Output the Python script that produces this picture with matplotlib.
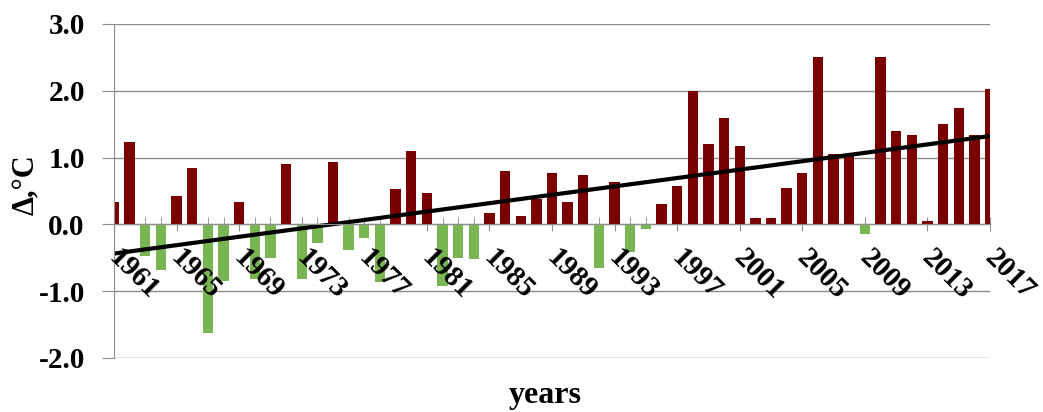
import numpy as np
import matplotlib
matplotlib.use("Agg")
import matplotlib.pyplot as plt
import matplotlib.transforms as mtransforms
from matplotlib.ticker import MultipleLocator, FormatStrFormatter

plt.rcParams['font.family'] = ['Liberation Serif', 'DejaVu Serif']
plt.rcParams['font.weight'] = 'bold'

# temperature anomaly per year
years = list(range(1961, 2018))
anomaly = [0.34, 1.23, -0.48, -0.68, 0.43, 0.84, -1.62, -0.84, 0.33, -0.82,
           -0.50, 0.90, -0.82, -0.28, 0.94, -0.38, -0.20, -0.86, 0.53, 1.10,
           0.47, -0.92, -0.50, -0.52, 0.17, 0.80, 0.13, 0.38, 0.77, 0.34,
           0.74, -0.65, 0.63, -0.41, -0.07, 0.31, 0.57, 2.00, 1.20, 1.60,
           1.18, 0.10, 0.10, 0.54, 0.77, 2.50, 1.06, 1.06, -0.15, 2.50,
           1.40, 1.34, 0.05, 1.50, 1.74, 1.34, 2.03]
tick_years = years[::4]

red = '#7a0000'
green = '#79b552'

x = np.arange(len(years))
vals = np.array(anomaly)
colors = [red if v >= 0 else green for v in vals]

fig = plt.figure(figsize=(10.43, 4.12), dpi=100)
ax = fig.add_axes([114/1043, 1-358/412, 876/1043, 334/412])
ax.set_axisbelow(True)

ax.bar(x, vals, width=0.66, color=colors, zorder=1)

# linear trend
k, b = np.polyfit(x, vals, 1)
ax.plot(x, k*x + b, color='black', lw=3, zorder=2, solid_capstyle='butt')

ax.set_xlim(0, len(years) - 1)
ax.set_ylim(-2, 3)
ax.yaxis.set_major_locator(MultipleLocator(1.0))
ax.yaxis.set_major_formatter(FormatStrFormatter('%.1f'))
ax.grid(axis='y', color='#8c8c8c', lw=1)

for s in ['top', 'right']:
    ax.spines[s].set_visible(False)
ax.spines['bottom'].set_position(('data', 0))
ax.spines['bottom'].set_color('#8c8c8c')
ax.spines['left'].set_color('#8c8c8c')

tick_pos = [years.index(t) for t in tick_years]
ax.set_xticks(tick_pos)
ax.set_xticklabels([])
ax.set_xticks(x, minor=True)
ax.tick_params(axis='x', which='major', direction='inout', length=10,
               color='#8c8c8c')
ax.tick_params(axis='x', which='minor', direction='in', length=5,
               color='#8c8c8c')

# slanted year labels drawn on top of the bars
shift = mtransforms.ScaledTranslation(6/72, -14/72, fig.dpi_scale_trans)
for p, t in zip(tick_pos, tick_years):
    ax.text(p, 0, str(t), transform=ax.transData + shift, rotation=-45,
            rotation_mode='anchor', ha='left', va='top', fontsize=21,
            fontweight='bold', zorder=4, clip_on=False)

ax.tick_params(axis='y', direction='out', length=9, color='#8c8c8c',
               labelsize=21, pad=12)
for lab in ax.get_yticklabels():
    lab.set_fontweight('bold')

ax.set_ylabel('Δ,°C', fontsize=22, fontweight='bold')
ax.yaxis.set_label_coords(-0.083, 0.52)
fig.text(545/1043, 1-395/412, 'years', ha='center', va='center',
         fontsize=23, fontweight='bold')

fig.savefig('out.png', dpi=100)
